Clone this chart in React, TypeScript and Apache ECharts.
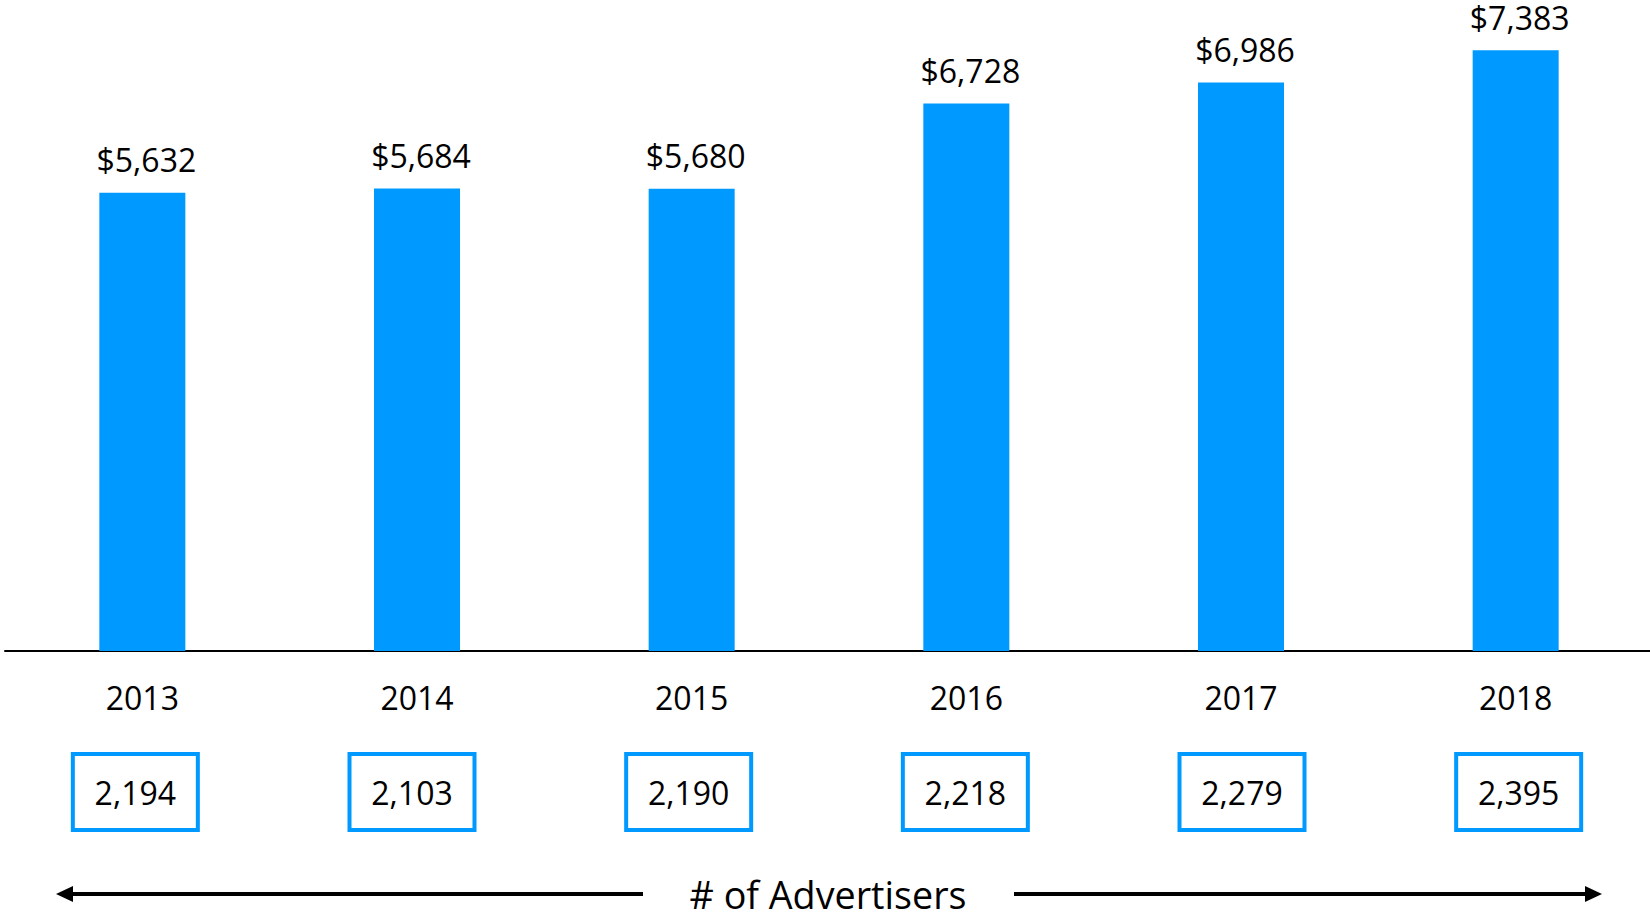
import React, { useEffect, useRef } from "react";
import * as echarts from "echarts";

const years = ["2013", "2014", "2015", "2016", "2017", "2018"];
const revenue = [5632, 5684, 5680, 6728, 6986, 7383];
const advertisers = [2194, 2103, 2190, 2218, 2279, 2395];
const footerTitle = "# of Advertisers";

const BLUE = "#0099ff";
const FONT = "Open Sans";
const WEIGHT = "normal";

export default function App() {
  const ref = useRef<HTMLDivElement>(null);
  useEffect(() => {
    if (!ref.current) return;
    const chart = echarts.init(ref.current, null, { renderer: "svg" });
    const fmt = (v: number) => v.toLocaleString("en-US");
    chart.setOption({
      animation: false,
      backgroundColor: "#ffffff",
      grid: [
        { left: 5, top: 0, width: 1648, height: 651, outerBoundsMode: "none", containLabel: false },
        { left: -3, top: 0, width: 1660, height: 651, outerBoundsMode: "none", containLabel: false },
      ],
      xAxis: [
        {
          type: "category",
          gridIndex: 0,
          data: years,
          position: "bottom",
          axisLine: { show: true, lineStyle: { color: "#000", width: 2 } },
          axisTick: { show: false },
          axisLabel: {
            interval: 0,
            margin: 30,
            color: "#000",
            fontSize: 32,
            fontWeight: WEIGHT,
            fontFamily: FONT,
          },
        },
        {
          type: "category",
          gridIndex: 1,
          data: years,
          position: "bottom",
          axisLine: { show: false },
          axisTick: { show: false },
          axisLabel: {
            interval: 0,
            margin: 103,
            color: "#000",
            fontSize: 32,
            fontWeight: WEIGHT,
            fontFamily: FONT,
            formatter: (_v: string, i: number) => fmt(advertisers[i]),
            borderColor: BLUE,
            borderWidth: 4,
            width: 83,
            height: 34,
            lineHeight: 34,
            padding: [21, 21],
            align: "center",
          },
        },
      ],
      yAxis: [
        { type: "value", gridIndex: 0, min: 0, max: 8000, show: false, splitLine: { show: false } },
        { type: "value", gridIndex: 1, min: 0, max: 8000, show: false, splitLine: { show: false } },
      ],
      series: [
        {
          type: "bar",
          xAxisIndex: 0,
          yAxisIndex: 0,
          data: revenue,
          barWidth: 86,
          itemStyle: { color: BLUE },
          label: {
            show: true,
            position: "top",
            distance: 17,
            offset: [4, 0],
            color: "#000",
            fontSize: 32,
            fontWeight: WEIGHT,
            fontFamily: FONT,
            formatter: (p: any) => "$" + fmt(p.value),
          },
        },
      ],
      graphic: [
        {
          type: "line",
          shape: { x1: 70, y1: 894, x2: 643, y2: 894 },
          style: { stroke: "#000", lineWidth: 4 },
        },
        {
          type: "polygon",
          shape: { points: [[56, 894], [73, 886], [73, 902]] },
          style: { fill: "#000" },
        },
        {
          type: "line",
          shape: { x1: 1014, y1: 894, x2: 1588, y2: 894 },
          style: { stroke: "#000", lineWidth: 4 },
        },
        {
          type: "polygon",
          shape: { points: [[1602, 894], [1585, 886], [1585, 902]] },
          style: { fill: "#000" },
        },
        {
          type: "text",
          x: 828,
          y: 894,
          style: {
            text: footerTitle,
            fontSize: 37.7,
            fontWeight: WEIGHT,
            fontFamily: FONT,
            fill: "#000",
            align: "center",
            verticalAlign: "middle",
          },
        },
      ],
    });
    return () => chart.dispose();
  }, []);
  return (
    <div
      ref={ref}
      style={{ position: "absolute", left: 0, top: 0, width: 1650, height: 913 }}
    />
  );
}
